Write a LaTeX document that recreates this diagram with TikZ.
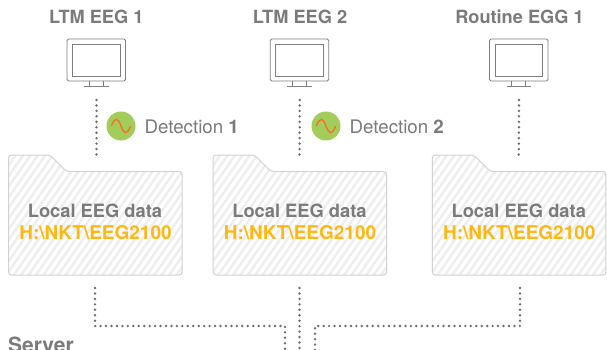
\documentclass[tikz,border=0pt]{standalone}
\usepackage{fontspec}
\setmainfont{TeX Gyre Heros}
\definecolor{txt}{HTML}{7B7B7B}
\definecolor{mon}{HTML}{7E7E7E}
\definecolor{edgef}{HTML}{D2D2D2}
\definecolor{hatchc}{HTML}{EEEEEE}
\definecolor{amber}{HTML}{FDB913}
\definecolor{leaf}{HTML}{A2CD5A}
\definecolor{wave}{HTML}{F0762D}
\definecolor{dotc}{HTML}{6E6E6E}
\tikzset{
  title/.style={font=\fontsize{18.2}{20}\selectfont\bfseries,text=txt,inner sep=0pt,anchor=base},
  detlabel/.style={font=\fontsize{18.7}{20}\selectfont,text=txt,inner sep=0pt,anchor=base west},
  foldertitle/.style={font=\fontsize{18.3}{20}\selectfont\bfseries,text=txt,inner sep=0pt,anchor=base},
  folderpath/.style={font=\fontsize{19}{20}\selectfont\bfseries,text=amber,inner sep=0pt,anchor=base},
  screen/.style={draw=mon,line width=0.8pt,rounded corners=1.5pt},
  dotted line/.style={draw=dotc,line width=2.7pt,line cap=round,dash pattern=on 0pt off 5.45pt},
  folderedge/.style={draw=edgef,line width=1pt},
  badge/.style={circle,fill=leaf,minimum size=29pt,inner sep=0pt},
}
\newcommand{\monitorat}[2]{%
  \begin{scope}[xshift=#1pt]
    \draw[screen] (67,39) rectangle (125.5,81);
    \draw[draw=mon,line width=0.9pt] (72.5,44.5) rectangle (120,76);
    \draw[draw=mon,line width=0.7pt] (89,81) -- (89,86) (103,81) -- (103,86) (84,86.3) -- (108.5,86.3);
    \coordinate (#2) at (96.5,100);
  \end{scope}}
\newcommand{\folderat}[2]{%
  \begin{scope}[xshift=#1pt]
    \def\fp{(8.5,158) .. controls (8.5,156) and (10,155) .. (12,155) -- (46,155)
      .. controls (50,155) and (52,157) .. (55,160) -- (62,167)
      .. controls (65,170.5) and (67,171.5) .. (71,171.5) -- (179,171.5)
      .. controls (181,171.5) and (182,173) .. (182,175) -- (182,272)
      .. controls (182,274) and (181,275) .. (179,275) -- (12,275)
      .. controls (10,275) and (8.5,274) .. (8.5,272) -- cycle}
    \begin{scope}
      \clip \fp;
      \foreach \k in {0,...,36}{
        \draw[hatchc,line width=2.4pt] (8.5+\k*7.4-87,280) -- (8.5+\k*7.4,155);
      }
    \end{scope}
    \draw[folderedge] \fp;
    \node[foldertitle] (#2t) at (95,217) {Local EEG data};
    \node[folderpath] (#2p) at (95.5,239.5) {H:\textbackslash NKT\textbackslash EEG2100};
  \end{scope}}
\begin{document}
\begin{tikzpicture}[x=1pt,y=-1pt]
  \useasboundingbox (0,0) rectangle (607,350);
  \fill[white] (0,0) rectangle (607,350);

  \node[title] (t1) at (96.3,24) {LTM EEG 1};
  \node[title] (t2) at (300,24) {LTM EEG 2};
  \node[title] (t3) at (519.5,24) {Routine EGG 1};

  \monitorat{0}{a}
  \monitorat{203.3}{b}
  \monitorat{422.5}{c}

  \folderat{0}{f}
  \folderat{204.5}{g}
  \folderat{423.8}{h}

  \coordinate (a2) at (96.5,159);
  \coordinate (b2) at (299.5,159);
  \coordinate (c2) at (518.8,159);
  \draw[dotted line] (a) -- (a2);
  \draw[dotted line] (b) -- (b2);
  \draw[dotted line] (c) -- (c2);

  \node[badge] (d1) at (121,126) {};
  \node[badge] (d2) at (326,126) {};
  \foreach \n in {d1,d2}{
    \draw[wave,line width=1.5pt,line cap=round] ([xshift=-9.5pt,yshift=0.5pt]\n.center)
      .. controls +(4,-9) and +(-3,-8) .. ([yshift=0pt]\n.center)
      .. controls +(3,8) and +(-4,9) .. ([xshift=9.5pt,yshift=-0.5pt]\n.center);
  }
  \node[detlabel] (l1) at (144.5,133) {Detection \textbf{1}};
  \node[detlabel] (l2) at (349.5,133) {Detection \textbf{2}};

  \coordinate (p1) at (95,288);
  \coordinate (p1c) at (95,326);
  \coordinate (p1d) at (285,326);
  \coordinate (p1e) at (285,352);
  \coordinate (p2) at (299.5,288);
  \coordinate (p2e) at (299.5,352);
  \coordinate (p3) at (520,288);
  \coordinate (p3c) at (520,326);
  \coordinate (p3d) at (315,326);
  \coordinate (p3e) at (315,352);
  \draw[dotted line] (p1) -- (p1c) -- (p1d) -- (p1e);
  \draw[dotted line] (p2) -- (p2e);
  \draw[dotted line] (p3) -- (p3c) -- (p3d) -- (p3e);

  \node[font=\fontsize{21}{22}\selectfont\bfseries,text=txt,inner sep=0pt,anchor=base west] (srv) at (8,352) {Server};
\end{tikzpicture}
\end{document}
